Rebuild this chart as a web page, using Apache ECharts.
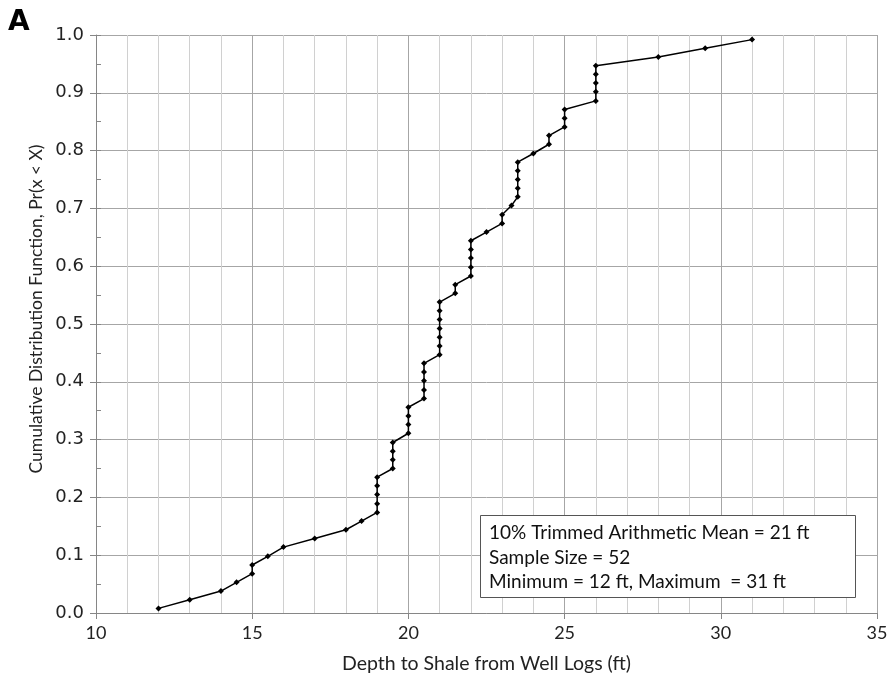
<!DOCTYPE html>
<html>
<head>
<meta charset="utf-8">
<script src="https://cdn.jsdelivr.net/npm/echarts@6/dist/echarts.min.js"></script>
<style>
  html, body { margin: 0; padding: 0; background: #fff; }
  #chart { width: 892px; height: 682px; }
</style>
</head>
<body>
<div id="chart"></div>
<script>
// Depth to shale (ft), sorted ascending, and its cumulative probability
const depthFt = [
  12, 13, 14, 14.5, 15, 15, 15.5, 16, 17, 18, 18.5,
  19, 19, 19, 19, 19,
  19.5, 19.5, 19.5, 19.5,
  20, 20, 20, 20,
  20.5, 20.5, 20.5, 20.5, 20.5,
  21, 21, 21, 21, 21, 21, 21,
  21.5, 21.5,
  22, 22, 22, 22, 22,
  22.5, 23, 23, 23.3,
  23.5, 23.5, 23.5, 23.5, 23.5,
  24, 24.5, 24.5,
  25, 25, 25,
  26, 26, 26, 26, 26,
  28, 29.5, 31
];
const cdf = [
  0.008, 0.023, 0.038, 0.053, 0.068, 0.083, 0.098, 0.114, 0.129, 0.144, 0.159,
  0.174, 0.189, 0.205, 0.220, 0.235,
  0.250, 0.265, 0.280, 0.295,
  0.311, 0.326, 0.341, 0.356,
  0.371, 0.386, 0.402, 0.417, 0.432,
  0.447, 0.462, 0.477, 0.492, 0.508, 0.523, 0.538,
  0.553, 0.568,
  0.583, 0.598, 0.614, 0.629, 0.644,
  0.659, 0.674, 0.689, 0.705,
  0.720, 0.735, 0.750, 0.765, 0.780,
  0.795, 0.811, 0.826,
  0.841, 0.856, 0.871,
  0.886, 0.902, 0.917, 0.932, 0.947,
  0.962, 0.977, 0.992
];
const statLines = [
  '10% Trimmed Arithmetic Mean = 21 ft',
  'Sample Size = 52',
  'Minimum = 12 ft, Maximum  = 31 ft'
];
const xTitle = 'Depth to Shale from Well Logs (ft)';
const yTitle = 'Cumulative Distribution Function, Pr(x < X)';
const panelLetter = 'A';

const points = depthFt.map((d, i) => [d, cdf[i]]);
const uiFont = 'Lato, "Open Sans", sans-serif';

const chart = echarts.init(document.getElementById('chart'), null, { renderer: 'canvas' });
chart.setOption({
  animation: false,
  backgroundColor: '#ffffff',
  grid: { left: 96, right: 15, top: 35, bottom: 69, containLabel: false },
  xAxis: {
    type: 'value', min: 10, max: 35, interval: 5,
    name: xTitle, nameLocation: 'middle', nameGap: 41,
    nameTextStyle: { fontFamily: uiFont, fontSize: 19.5, color: '#222' },
    axisLine: { show: true, onZero: false, lineStyle: { color: '#868686', width: 1 } },
    axisTick: { show: true, length: 6, lineStyle: { color: '#868686' } },
    minorTick: { show: false },
    axisLabel: { fontFamily: uiFont, fontSize: 18, color: '#222', margin: 11 },
    splitLine: { show: true, lineStyle: { color: '#a6a6a6', width: 1 } },
    minorSplitLine: { show: true, lineStyle: { color: '#d0d0d0', width: 1 } }
  },
  yAxis: [{
    type: 'value', min: 0, max: 1, interval: 0.1,
    axisLine: { show: true, onZero: false, lineStyle: { color: '#868686', width: 1 } },
    axisTick: { show: true, length: 6, lineStyle: { color: '#868686' } },
    axisLabel: {
      fontFamily: '"DejaVu Sans", Verdana, sans-serif', fontSize: 18, color: '#222',
      margin: 12, formatter: v => v.toFixed(1)
    },
    splitLine: { show: true, lineStyle: { color: '#a6a6a6', width: 1 } }
  }, {
    // inner half-step ticks on the left axis
    type: 'value', min: 0, max: 1, interval: 0.05, position: 'left',
    axisLine: { show: false },
    axisTick: { show: true, inside: true, length: 5, lineStyle: { color: '#868686' } },
    axisLabel: { show: false },
    splitLine: { show: false }
  }],
  series: [{
    type: 'line',
    data: points,
    yAxisIndex: 0,
    symbol: 'diamond', symbolSize: 6,
    itemStyle: { color: '#000' },
    lineStyle: { color: '#000', width: 1.5 },
    z: 5
  }],
  graphic: [
    {
      type: 'text', left: 8, top: 9, z: 100,
      style: { text: panelLetter, fontFamily: '"DejaVu Sans", Verdana, sans-serif', fontWeight: 'bold', fontSize: 28, fill: '#000' }
    },
    {
      // vertical axis title
      type: 'text', x: 36, y: 309, rotation: Math.PI / 2, z: 100,
      style: {
        text: yTitle, fontFamily: uiFont, fontSize: 17.5, fill: '#222',
        align: 'center', verticalAlign: 'middle'
      }
    },
    {
      type: 'rect', left: 480, top: 515, z: 100,
      shape: { x: 0, y: 0, width: 375, height: 82 },
      style: { fill: '#ffffff', stroke: '#555', lineWidth: 1 }
    },
    {
      type: 'text', left: 489, top: 521, z: 101,
      style: { text: statLines.join('\n'), fontFamily: uiFont, fontSize: 19, lineHeight: 24.5, fill: '#111' }
    }
  ]
});
</script>
</body>
</html>
